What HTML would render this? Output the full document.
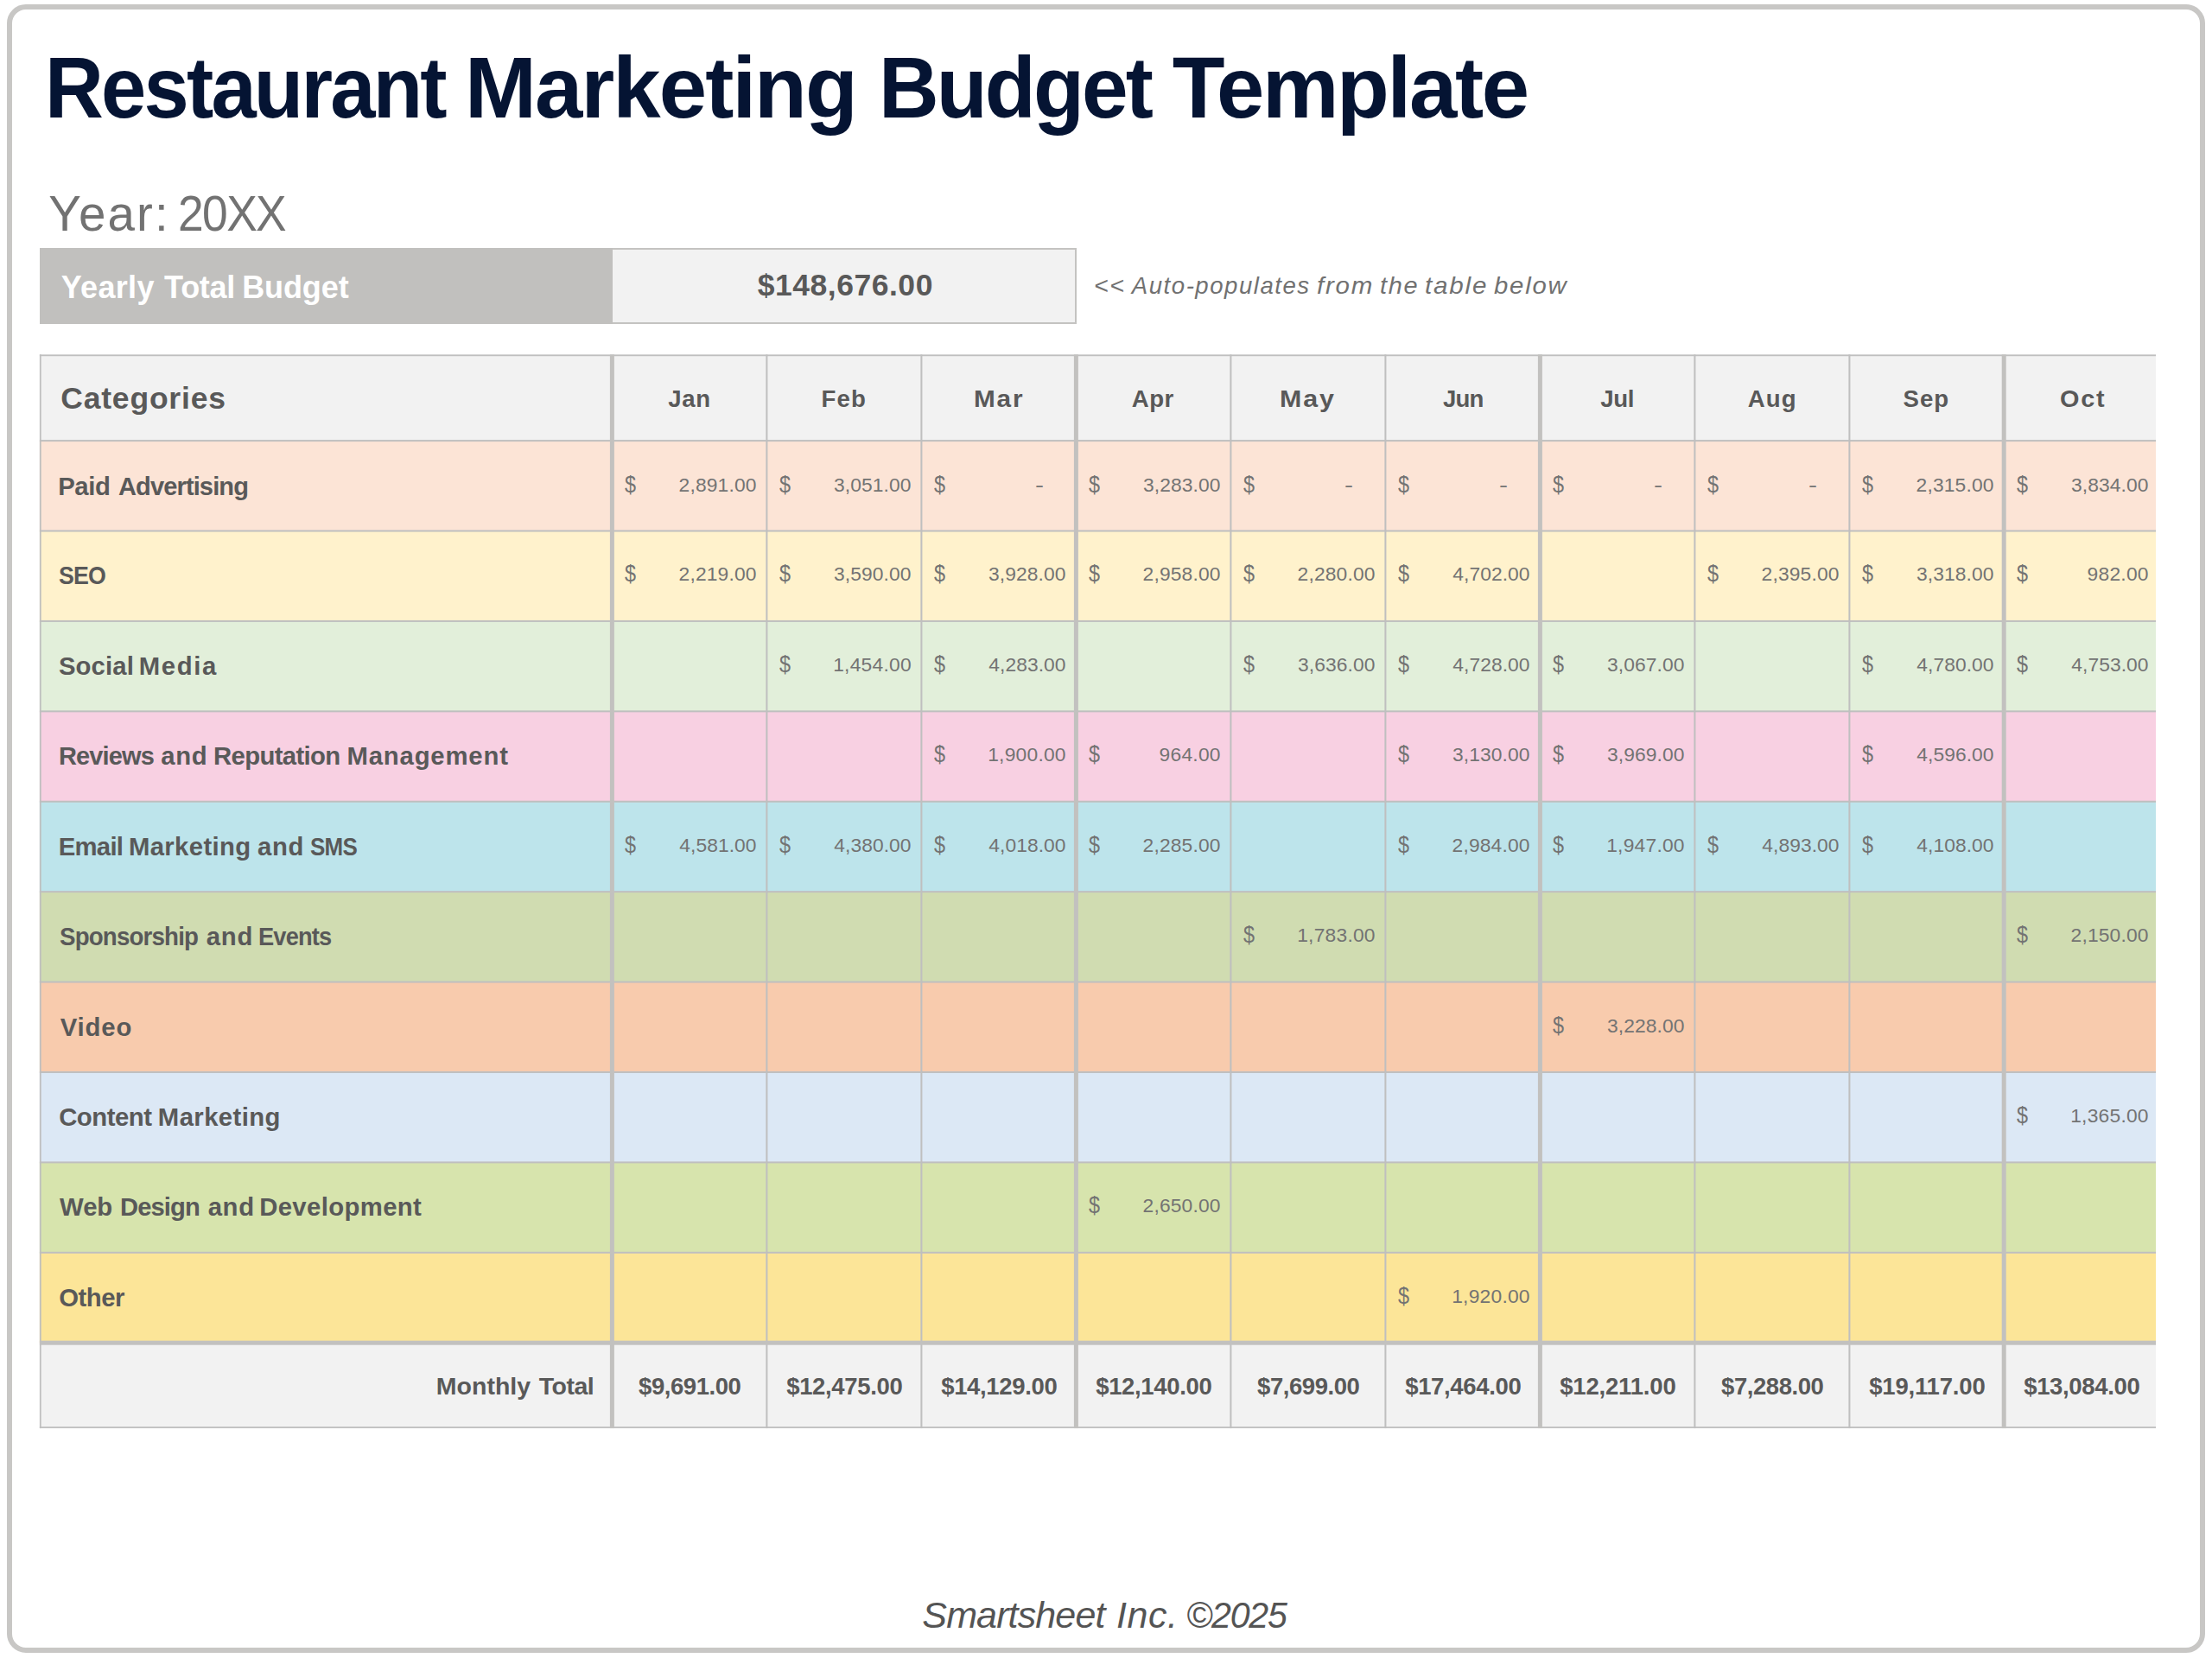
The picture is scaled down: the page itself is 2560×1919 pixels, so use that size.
<!DOCTYPE html>
<html><head><meta charset="utf-8"><title>Restaurant Marketing Budget Template</title>
<style>
html,body{margin:0;padding:0;background:#fff;}
body{width:2560px;height:1919px;position:relative;overflow:hidden;font-family:"Liberation Sans",sans-serif;}
.a{position:absolute;}
.t{position:absolute;white-space:nowrap;line-height:1;margin:0;padding:0;transform-origin:0 0;}
.g{margin:0;padding:0;}
.b{font-weight:bold;}
.i{font-style:italic;}
</style></head><body>
<div class="a" style="left:8px;top:5px;width:2544px;height:1908px;box-sizing:border-box;border:6px solid #c8c7c5;border-radius:22px;"></div>
<div class="a" style="left:46px;top:287px;width:663px;height:88px;background:#c1c0be;"></div>
<div class="a" style="left:709px;top:287px;width:537px;height:88px;box-sizing:border-box;background:#f2f2f2;border:2px solid #c4c3c1;border-left:none;"></div>
<svg class="a" style="left:0;top:0;" width="2560" height="1919" viewBox="0 0 2560 1919">
<defs><clipPath id="tc"><rect x="45.65" y="410.2" width="2449.35" height="1243.1"/></clipPath></defs>
<g clip-path="url(#tc)">
<rect x="45.65" y="410.20" width="2449.35" height="1243.10" fill="#f2f2f2"/>
<rect x="45.65" y="510.10" width="2449.35" height="104.41" fill="#fce4d6"/>
<rect x="45.65" y="614.51" width="2449.35" height="104.41" fill="#fff2cc"/>
<rect x="45.65" y="718.92" width="2449.35" height="104.41" fill="#e2efda"/>
<rect x="45.65" y="823.33" width="2449.35" height="104.41" fill="#f8d0e2"/>
<rect x="45.65" y="927.74" width="2449.35" height="104.41" fill="#bde4eb"/>
<rect x="45.65" y="1032.15" width="2449.35" height="104.41" fill="#d0dcb1"/>
<rect x="45.65" y="1136.56" width="2449.35" height="104.41" fill="#f8cbad"/>
<rect x="45.65" y="1240.97" width="2449.35" height="104.41" fill="#dce8f5"/>
<rect x="45.65" y="1345.38" width="2449.35" height="104.41" fill="#d7e4ad"/>
<rect x="45.65" y="1449.79" width="2449.35" height="104.41" fill="#fce598"/>
<rect x="45.65" y="410.20" width="2449.35" height="2.00" fill="#bfbfbf"/>
<rect x="45.65" y="509.10" width="2449.35" height="2.00" fill="#bfbfbf"/>
<rect x="45.65" y="613.51" width="2449.35" height="2.00" fill="#bfbfbf"/>
<rect x="45.65" y="717.92" width="2449.35" height="2.00" fill="#bfbfbf"/>
<rect x="45.65" y="822.33" width="2449.35" height="2.00" fill="#bfbfbf"/>
<rect x="45.65" y="926.74" width="2449.35" height="2.00" fill="#bfbfbf"/>
<rect x="45.65" y="1031.15" width="2449.35" height="2.00" fill="#bfbfbf"/>
<rect x="45.65" y="1135.56" width="2449.35" height="2.00" fill="#bfbfbf"/>
<rect x="45.65" y="1239.97" width="2449.35" height="2.00" fill="#bfbfbf"/>
<rect x="45.65" y="1344.38" width="2449.35" height="2.00" fill="#bfbfbf"/>
<rect x="45.65" y="1448.79" width="2449.35" height="2.00" fill="#bfbfbf"/>
<rect x="45.65" y="1651.30" width="2449.35" height="2.00" fill="#bfbfbf"/>
<rect x="45.65" y="410.20" width="2.00" height="1243.10" fill="#bfbfbf"/>
<rect x="886.40" y="410.20" width="2.00" height="1243.10" fill="#bfbfbf"/>
<rect x="1065.40" y="410.20" width="2.00" height="1243.10" fill="#bfbfbf"/>
<rect x="1423.40" y="410.20" width="2.00" height="1243.10" fill="#bfbfbf"/>
<rect x="1602.40" y="410.20" width="2.00" height="1243.10" fill="#bfbfbf"/>
<rect x="1960.40" y="410.20" width="2.00" height="1243.10" fill="#bfbfbf"/>
<rect x="2139.40" y="410.20" width="2.00" height="1243.10" fill="#bfbfbf"/>
<rect x="45.65" y="1551.70" width="2449.35" height="5.00" fill="#c2c1bf"/>
<rect x="705.90" y="410.20" width="5.00" height="1243.10" fill="#c2c1bf"/>
<rect x="1242.90" y="410.20" width="5.00" height="1243.10" fill="#c2c1bf"/>
<rect x="1779.90" y="410.20" width="5.00" height="1243.10" fill="#c2c1bf"/>
<rect x="2316.70" y="410.20" width="5.00" height="1243.10" fill="#c2c1bf"/>
</g></svg>
<div class="g" id="title">
<span class="t b" style="left:52.33px;top:52px;font-size:99.5px;color:#051433;letter-spacing:-2.985px;transform:scaleX(0.9445);">Restaurant</span> <span class="t b" style="left:538.08px;top:52px;font-size:99.5px;color:#051433;letter-spacing:-1.909px;">Marketing</span> <span class="t b" style="left:1016.67px;top:52px;font-size:99.5px;color:#051433;letter-spacing:-2.985px;transform:scaleX(0.9700);">Budget</span> <span class="t b" style="left:1356.80px;top:52px;font-size:99.5px;color:#051433;letter-spacing:-2.294px;">Template</span>
</div>
<div class="g" id="year">
<span class="t" style="left:56.32px;top:220px;font-size:56.5px;color:#727272;letter-spacing:2.133px;">Year:</span> <span class="t" style="left:205.70px;top:220px;font-size:56.5px;color:#727272;letter-spacing:-1.695px;transform:scaleX(0.9440);">20XX</span>
</div>
<div class="g" id="summary">
<span class="c"><span class="t b" style="left:70.74px;top:315px;font-size:36px;color:#ffffff;letter-spacing:0.326px;">Yearly</span> <span class="t b" style="left:190.10px;top:315px;font-size:36px;color:#ffffff;letter-spacing:-0.273px;">Total</span> <span class="t b" style="left:280.15px;top:315px;font-size:36px;color:#ffffff;letter-spacing:-0.091px;">Budget</span></span>
<span class="c"><span class="t b" style="left:876.65px;top:313px;font-size:35.5px;color:#595959;letter-spacing:0.532px;">$148,676.00</span></span>
<span class="c"><span class="t i" style="left:1265.62px;top:317px;font-size:27.6px;color:#717171;letter-spacing:1.656px;transform:scaleX(1.0325);">&lt;&lt;</span> <span class="t i" style="left:1309.82px;top:317px;font-size:27.6px;color:#717171;letter-spacing:1.518px;">Auto-populates</span> <span class="t i" style="left:1524.18px;top:317px;font-size:27.6px;color:#717171;letter-spacing:1.656px;transform:scaleX(1.0702);">from</span> <span class="t i" style="left:1596.60px;top:317px;font-size:27.6px;color:#717171;letter-spacing:1.656px;transform:scaleX(1.0491);">the</span> <span class="t i" style="left:1648.97px;top:317px;font-size:27.6px;color:#717171;letter-spacing:1.656px;transform:scaleX(1.0736);">table</span> <span class="t i" style="left:1729.10px;top:317px;font-size:27.6px;color:#717171;letter-spacing:1.656px;transform:scaleX(1.0626);">below</span></span>
</div>
<div class="g" id="head">
<span class="c"><span class="t b" style="left:70.29px;top:444px;font-size:35.5px;color:#595959;letter-spacing:0.796px;">Categories</span></span>
<span class="c"><span class="t b" style="left:773.20px;top:448px;font-size:27.6px;color:#595959;letter-spacing:0.688px;">Jan</span></span>
<span class="c"><span class="t b" style="left:950.57px;top:448px;font-size:27.6px;color:#595959;letter-spacing:1.180px;">Feb</span></span>
<span class="c"><span class="t b" style="left:1127.34px;top:448px;font-size:27.6px;color:#595959;letter-spacing:1.656px;transform:scaleX(1.0780);">Mar</span></span>
<span class="c"><span class="t b" style="left:1309.87px;top:448px;font-size:27.6px;color:#595959;letter-spacing:0.445px;">Apr</span></span>
<span class="c"><span class="t b" style="left:1481.30px;top:448px;font-size:27.6px;color:#595959;letter-spacing:1.656px;transform:scaleX(1.1018);">May</span></span>
<span class="c"><span class="t b" style="left:1670.00px;top:448px;font-size:27.6px;color:#595959;letter-spacing:-0.828px;">Jun</span></span>
<span class="c"><span class="t b" style="left:1852.30px;top:448px;font-size:27.6px;color:#595959;letter-spacing:-0.423px;">Jul</span></span>
<span class="c"><span class="t b" style="left:2022.67px;top:448px;font-size:27.6px;color:#595959;letter-spacing:1.173px;">Aug</span></span>
<span class="c"><span class="t b" style="left:2202.57px;top:448px;font-size:27.6px;color:#595959;letter-spacing:0.958px;">Sep</span></span>
<span class="c"><span class="t b" style="left:2383.50px;top:448px;font-size:27.6px;color:#595959;letter-spacing:1.656px;transform:scaleX(1.0450);">Oct</span></span>
</div>
<div class="g" id="row0">
<span class="c"><span class="t b" style="left:67.17px;top:548px;font-size:29.3px;color:#595959;letter-spacing:-0.357px;">Paid</span> <span class="t b" style="left:136.65px;top:548px;font-size:29.3px;color:#595959;letter-spacing:-0.879px;transform:scaleX(0.9903);">Advertising</span></span>
<span class="c"><span class="t" style="left:722.50px;top:548px;font-size:27px;color:#737373;transform:scaleX(0.8669);">$</span> <span class="t" style="left:785.53px;top:550px;font-size:22.8px;color:#737373;letter-spacing:0.184px;">2,891.00</span></span>
<span class="c"><span class="t" style="left:901.50px;top:548px;font-size:27px;color:#737373;transform:scaleX(0.8669);">$</span> <span class="t" style="left:964.89px;top:550px;font-size:22.8px;color:#737373;letter-spacing:0.133px;">3,051.00</span></span>
<span class="c"><span class="t" style="left:1080.50px;top:548px;font-size:27px;color:#737373;transform:scaleX(0.8669);">$</span> <span class="t" style="left:1198.36px;top:550px;font-size:22.8px;color:#737373;transform:scaleX(1.3209);">-</span></span>
<span class="c"><span class="t" style="left:1259.50px;top:548px;font-size:27px;color:#737373;transform:scaleX(0.8669);">$</span> <span class="t" style="left:1322.89px;top:550px;font-size:22.8px;color:#737373;letter-spacing:0.133px;">3,283.00</span></span>
<span class="c"><span class="t" style="left:1438.50px;top:548px;font-size:27px;color:#737373;transform:scaleX(0.8669);">$</span> <span class="t" style="left:1556.36px;top:550px;font-size:22.8px;color:#737373;transform:scaleX(1.3209);">-</span></span>
<span class="c"><span class="t" style="left:1617.50px;top:548px;font-size:27px;color:#737373;transform:scaleX(0.8669);">$</span> <span class="t" style="left:1735.36px;top:550px;font-size:22.8px;color:#737373;transform:scaleX(1.3209);">-</span></span>
<span class="c"><span class="t" style="left:1796.50px;top:548px;font-size:27px;color:#737373;transform:scaleX(0.8669);">$</span> <span class="t" style="left:1914.36px;top:550px;font-size:22.8px;color:#737373;transform:scaleX(1.3209);">-</span></span>
<span class="c"><span class="t" style="left:1975.50px;top:548px;font-size:27px;color:#737373;transform:scaleX(0.8669);">$</span> <span class="t" style="left:2093.36px;top:550px;font-size:22.8px;color:#737373;transform:scaleX(1.3209);">-</span></span>
<span class="c"><span class="t" style="left:2154.50px;top:548px;font-size:27px;color:#737373;transform:scaleX(0.8669);">$</span> <span class="t" style="left:2217.53px;top:550px;font-size:22.8px;color:#737373;letter-spacing:0.184px;">2,315.00</span></span>
<span class="c"><span class="t" style="left:2333.50px;top:548px;font-size:27px;color:#737373;transform:scaleX(0.8669);">$</span> <span class="t" style="left:2396.89px;top:550px;font-size:22.8px;color:#737373;letter-spacing:0.133px;">3,834.00</span></span>
</div>
<div class="g" id="row1">
<span class="c"><span class="t b" style="left:67.98px;top:651px;font-size:29.3px;color:#595959;letter-spacing:-0.879px;transform:scaleX(0.9126);">SEO</span></span>
<span class="c"><span class="t" style="left:722.50px;top:651px;font-size:27px;color:#737373;transform:scaleX(0.8669);">$</span> <span class="t" style="left:785.53px;top:653px;font-size:22.8px;color:#737373;letter-spacing:0.184px;">2,219.00</span></span>
<span class="c"><span class="t" style="left:901.50px;top:651px;font-size:27px;color:#737373;transform:scaleX(0.8669);">$</span> <span class="t" style="left:964.89px;top:653px;font-size:22.8px;color:#737373;letter-spacing:0.133px;">3,590.00</span></span>
<span class="c"><span class="t" style="left:1080.50px;top:651px;font-size:27px;color:#737373;transform:scaleX(0.8669);">$</span> <span class="t" style="left:1143.89px;top:653px;font-size:22.8px;color:#737373;letter-spacing:0.133px;">3,928.00</span></span>
<span class="c"><span class="t" style="left:1259.50px;top:651px;font-size:27px;color:#737373;transform:scaleX(0.8669);">$</span> <span class="t" style="left:1322.53px;top:653px;font-size:22.8px;color:#737373;letter-spacing:0.184px;">2,958.00</span></span>
<span class="c"><span class="t" style="left:1438.50px;top:651px;font-size:27px;color:#737373;transform:scaleX(0.8669);">$</span> <span class="t" style="left:1501.53px;top:653px;font-size:22.8px;color:#737373;letter-spacing:0.184px;">2,280.00</span></span>
<span class="c"><span class="t" style="left:1617.50px;top:651px;font-size:27px;color:#737373;transform:scaleX(0.8669);">$</span> <span class="t" style="left:1681.24px;top:653px;font-size:22.8px;color:#737373;letter-spacing:0.082px;">4,702.00</span></span>
<span class="c"><span class="t" style="left:1975.50px;top:651px;font-size:27px;color:#737373;transform:scaleX(0.8669);">$</span> <span class="t" style="left:2038.53px;top:653px;font-size:22.8px;color:#737373;letter-spacing:0.184px;">2,395.00</span></span>
<span class="c"><span class="t" style="left:2154.50px;top:651px;font-size:27px;color:#737373;transform:scaleX(0.8669);">$</span> <span class="t" style="left:2217.89px;top:653px;font-size:22.8px;color:#737373;letter-spacing:0.133px;">3,318.00</span></span>
<span class="c"><span class="t" style="left:2333.50px;top:651px;font-size:27px;color:#737373;transform:scaleX(0.8669);">$</span> <span class="t" style="left:2415.53px;top:653px;font-size:22.8px;color:#737373;letter-spacing:0.260px;">982.00</span></span>
</div>
<div class="g" id="row2">
<span class="c"><span class="t b" style="left:67.94px;top:756px;font-size:29.3px;color:#595959;letter-spacing:0.115px;">Social</span> <span class="t b" style="left:160.77px;top:756px;font-size:29.3px;color:#595959;letter-spacing:1.627px;">Media</span></span>
<span class="c"><span class="t" style="left:901.50px;top:756px;font-size:27px;color:#737373;transform:scaleX(0.8669);">$</span> <span class="t" style="left:964.18px;top:758px;font-size:22.8px;color:#737373;letter-spacing:0.235px;">1,454.00</span></span>
<span class="c"><span class="t" style="left:1080.50px;top:756px;font-size:27px;color:#737373;transform:scaleX(0.8669);">$</span> <span class="t" style="left:1144.24px;top:758px;font-size:22.8px;color:#737373;letter-spacing:0.082px;">4,283.00</span></span>
<span class="c"><span class="t" style="left:1438.50px;top:756px;font-size:27px;color:#737373;transform:scaleX(0.8669);">$</span> <span class="t" style="left:1501.89px;top:758px;font-size:22.8px;color:#737373;letter-spacing:0.133px;">3,636.00</span></span>
<span class="c"><span class="t" style="left:1617.50px;top:756px;font-size:27px;color:#737373;transform:scaleX(0.8669);">$</span> <span class="t" style="left:1681.24px;top:758px;font-size:22.8px;color:#737373;letter-spacing:0.082px;">4,728.00</span></span>
<span class="c"><span class="t" style="left:1796.50px;top:756px;font-size:27px;color:#737373;transform:scaleX(0.8669);">$</span> <span class="t" style="left:1859.89px;top:758px;font-size:22.8px;color:#737373;letter-spacing:0.133px;">3,067.00</span></span>
<span class="c"><span class="t" style="left:2154.50px;top:756px;font-size:27px;color:#737373;transform:scaleX(0.8669);">$</span> <span class="t" style="left:2218.24px;top:758px;font-size:22.8px;color:#737373;letter-spacing:0.082px;">4,780.00</span></span>
<span class="c"><span class="t" style="left:2333.50px;top:756px;font-size:27px;color:#737373;transform:scaleX(0.8669);">$</span> <span class="t" style="left:2397.24px;top:758px;font-size:22.8px;color:#737373;letter-spacing:0.082px;">4,753.00</span></span>
</div>
<div class="g" id="row3">
<span class="c"><span class="t b" style="left:68.09px;top:860px;font-size:29.3px;color:#595959;letter-spacing:-0.879px;transform:scaleX(0.9892);">Reviews</span> <span class="t b" style="left:186.14px;top:860px;font-size:29.3px;color:#595959;letter-spacing:0.721px;">and</span> <span class="t b" style="left:247.07px;top:860px;font-size:29.3px;color:#595959;letter-spacing:-0.650px;">Reputation</span> <span class="t b" style="left:401.47px;top:860px;font-size:29.3px;color:#595959;letter-spacing:0.820px;">Management</span></span>
<span class="c"><span class="t" style="left:1080.50px;top:860px;font-size:27px;color:#737373;transform:scaleX(0.8669);">$</span> <span class="t" style="left:1143.17px;top:862px;font-size:22.8px;color:#737373;letter-spacing:0.235px;">1,900.00</span></span>
<span class="c"><span class="t" style="left:1259.50px;top:860px;font-size:27px;color:#737373;transform:scaleX(0.8669);">$</span> <span class="t" style="left:1341.53px;top:862px;font-size:22.8px;color:#737373;letter-spacing:0.260px;">964.00</span></span>
<span class="c"><span class="t" style="left:1617.50px;top:860px;font-size:27px;color:#737373;transform:scaleX(0.8669);">$</span> <span class="t" style="left:1680.89px;top:862px;font-size:22.8px;color:#737373;letter-spacing:0.133px;">3,130.00</span></span>
<span class="c"><span class="t" style="left:1796.50px;top:860px;font-size:27px;color:#737373;transform:scaleX(0.8669);">$</span> <span class="t" style="left:1859.89px;top:862px;font-size:22.8px;color:#737373;letter-spacing:0.133px;">3,969.00</span></span>
<span class="c"><span class="t" style="left:2154.50px;top:860px;font-size:27px;color:#737373;transform:scaleX(0.8669);">$</span> <span class="t" style="left:2218.24px;top:862px;font-size:22.8px;color:#737373;letter-spacing:0.082px;">4,596.00</span></span>
</div>
<div class="g" id="row4">
<span class="c"><span class="t b" style="left:67.77px;top:965px;font-size:29.3px;color:#595959;letter-spacing:-0.752px;">Email</span> <span class="t b" style="left:148.97px;top:965px;font-size:29.3px;color:#595959;letter-spacing:0.352px;">Marketing</span> <span class="t b" style="left:298.04px;top:965px;font-size:29.3px;color:#595959;letter-spacing:0.671px;">and</span> <span class="t b" style="left:359.49px;top:965px;font-size:29.3px;color:#595959;letter-spacing:-0.879px;transform:scaleX(0.8875);">SMS</span></span>
<span class="c"><span class="t" style="left:722.50px;top:965px;font-size:27px;color:#737373;transform:scaleX(0.8669);">$</span> <span class="t" style="left:786.24px;top:967px;font-size:22.8px;color:#737373;letter-spacing:0.082px;">4,581.00</span></span>
<span class="c"><span class="t" style="left:901.50px;top:965px;font-size:27px;color:#737373;transform:scaleX(0.8669);">$</span> <span class="t" style="left:965.24px;top:967px;font-size:22.8px;color:#737373;letter-spacing:0.082px;">4,380.00</span></span>
<span class="c"><span class="t" style="left:1080.50px;top:965px;font-size:27px;color:#737373;transform:scaleX(0.8669);">$</span> <span class="t" style="left:1144.24px;top:967px;font-size:22.8px;color:#737373;letter-spacing:0.082px;">4,018.00</span></span>
<span class="c"><span class="t" style="left:1259.50px;top:965px;font-size:27px;color:#737373;transform:scaleX(0.8669);">$</span> <span class="t" style="left:1322.53px;top:967px;font-size:22.8px;color:#737373;letter-spacing:0.184px;">2,285.00</span></span>
<span class="c"><span class="t" style="left:1617.50px;top:965px;font-size:27px;color:#737373;transform:scaleX(0.8669);">$</span> <span class="t" style="left:1680.53px;top:967px;font-size:22.8px;color:#737373;letter-spacing:0.184px;">2,984.00</span></span>
<span class="c"><span class="t" style="left:1796.50px;top:965px;font-size:27px;color:#737373;transform:scaleX(0.8669);">$</span> <span class="t" style="left:1859.17px;top:967px;font-size:22.8px;color:#737373;letter-spacing:0.235px;">1,947.00</span></span>
<span class="c"><span class="t" style="left:1975.50px;top:965px;font-size:27px;color:#737373;transform:scaleX(0.8669);">$</span> <span class="t" style="left:2039.24px;top:967px;font-size:22.8px;color:#737373;letter-spacing:0.082px;">4,893.00</span></span>
<span class="c"><span class="t" style="left:2154.50px;top:965px;font-size:27px;color:#737373;transform:scaleX(0.8669);">$</span> <span class="t" style="left:2218.24px;top:967px;font-size:22.8px;color:#737373;letter-spacing:0.082px;">4,108.00</span></span>
</div>
<div class="g" id="row5">
<span class="c"><span class="t b" style="left:68.67px;top:1069px;font-size:29.3px;color:#595959;letter-spacing:-0.879px;transform:scaleX(0.9452);">Sponsorship</span> <span class="t b" style="left:238.64px;top:1069px;font-size:29.3px;color:#595959;letter-spacing:0.871px;">and</span> <span class="t b" style="left:298.70px;top:1069px;font-size:29.3px;color:#595959;letter-spacing:-0.879px;transform:scaleX(0.9293);">Events</span></span>
<span class="c"><span class="t" style="left:1438.50px;top:1069px;font-size:27px;color:#737373;transform:scaleX(0.8669);">$</span> <span class="t" style="left:1501.17px;top:1071px;font-size:22.8px;color:#737373;letter-spacing:0.235px;">1,783.00</span></span>
<span class="c"><span class="t" style="left:2333.50px;top:1069px;font-size:27px;color:#737373;transform:scaleX(0.8669);">$</span> <span class="t" style="left:2396.53px;top:1071px;font-size:22.8px;color:#737373;letter-spacing:0.184px;">2,150.00</span></span>
</div>
<div class="g" id="row6">
<span class="c"><span class="t b" style="left:69.70px;top:1174px;font-size:29.3px;color:#595959;letter-spacing:0.879px;">Video</span></span>
<span class="c"><span class="t" style="left:1796.50px;top:1174px;font-size:27px;color:#737373;transform:scaleX(0.8669);">$</span> <span class="t" style="left:1859.89px;top:1176px;font-size:22.8px;color:#737373;letter-spacing:0.133px;">3,228.00</span></span>
</div>
<div class="g" id="row7">
<span class="c"><span class="t b" style="left:68.18px;top:1278px;font-size:29.3px;color:#595959;letter-spacing:-0.467px;">Content</span> <span class="t b" style="left:182.87px;top:1278px;font-size:29.3px;color:#595959;letter-spacing:0.390px;">Marketing</span></span>
<span class="c"><span class="t" style="left:2333.50px;top:1278px;font-size:27px;color:#737373;transform:scaleX(0.8669);">$</span> <span class="t" style="left:2396.17px;top:1280px;font-size:22.8px;color:#737373;letter-spacing:0.235px;">1,365.00</span></span>
</div>
<div class="g" id="row8">
<span class="c"><span class="t b" style="left:69.10px;top:1382px;font-size:29.3px;color:#595959;letter-spacing:-0.080px;">Web</span> <span class="t b" style="left:138.88px;top:1382px;font-size:29.3px;color:#595959;letter-spacing:-0.879px;transform:scaleX(0.9951);">Design</span> <span class="t b" style="left:240.64px;top:1382px;font-size:29.3px;color:#595959;letter-spacing:0.671px;">and</span> <span class="t b" style="left:300.17px;top:1382px;font-size:29.3px;color:#595959;letter-spacing:0.369px;">Development</span></span>
<span class="c"><span class="t" style="left:1259.50px;top:1382px;font-size:27px;color:#737373;transform:scaleX(0.8669);">$</span> <span class="t" style="left:1322.53px;top:1384px;font-size:22.8px;color:#737373;letter-spacing:0.184px;">2,650.00</span></span>
</div>
<div class="g" id="row9">
<span class="c"><span class="t b" style="left:68.18px;top:1487px;font-size:29.3px;color:#595959;letter-spacing:-0.478px;">Other</span></span>
<span class="c"><span class="t" style="left:1617.50px;top:1487px;font-size:27px;color:#737373;transform:scaleX(0.8669);">$</span> <span class="t" style="left:1680.17px;top:1489px;font-size:22.8px;color:#737373;letter-spacing:0.235px;">1,920.00</span></span>
</div>
<div class="g" id="total">
<span class="c"><span class="t b" style="left:504.82px;top:1590px;font-size:28.5px;color:#595959;letter-spacing:0.012px;">Monthly</span> <span class="t b" style="left:623.80px;top:1590px;font-size:28.5px;color:#595959;letter-spacing:-0.495px;">Total</span></span>
<span class="c"><span class="t b" style="left:739.05px;top:1591px;font-size:27.5px;color:#595959;letter-spacing:-0.441px;">$9,691.00</span></span>
<span class="c"><span class="t b" style="left:910.20px;top:1591px;font-size:27.5px;color:#595959;letter-spacing:-0.347px;">$12,475.00</span></span>
<span class="c"><span class="t b" style="left:1089.20px;top:1591px;font-size:27.5px;color:#595959;letter-spacing:-0.347px;">$14,129.00</span></span>
<span class="c"><span class="t b" style="left:1268.20px;top:1591px;font-size:27.5px;color:#595959;letter-spacing:-0.347px;">$12,140.00</span></span>
<span class="c"><span class="t b" style="left:1455.05px;top:1591px;font-size:27.5px;color:#595959;letter-spacing:-0.441px;">$7,699.00</span></span>
<span class="c"><span class="t b" style="left:1626.20px;top:1591px;font-size:27.5px;color:#595959;letter-spacing:-0.347px;">$17,464.00</span></span>
<span class="c"><span class="t b" style="left:1805.20px;top:1591px;font-size:27.5px;color:#595959;letter-spacing:-0.178px;">$12,211.00</span></span>
<span class="c"><span class="t b" style="left:1992.05px;top:1591px;font-size:27.5px;color:#595959;letter-spacing:-0.441px;">$7,288.00</span></span>
<span class="c"><span class="t b" style="left:2163.20px;top:1591px;font-size:27.5px;color:#595959;letter-spacing:-0.178px;">$19,117.00</span></span>
<span class="c"><span class="t b" style="left:2342.20px;top:1591px;font-size:27.5px;color:#595959;letter-spacing:-0.347px;">$13,084.00</span></span>
</div>
<div class="g" id="footer">
<span class="t i" style="left:1067.33px;top:1848px;font-size:43px;color:#545454;letter-spacing:-0.866px;">Smartsheet</span> <span class="t i" style="left:1291.96px;top:1848px;font-size:43px;color:#545454;letter-spacing:0.588px;">Inc.</span> <span class="t i" style="left:1372.96px;top:1848px;font-size:43px;color:#545454;letter-spacing:-1.290px;transform:scaleX(0.9558);">©2025</span>
</div>
</body></html>
